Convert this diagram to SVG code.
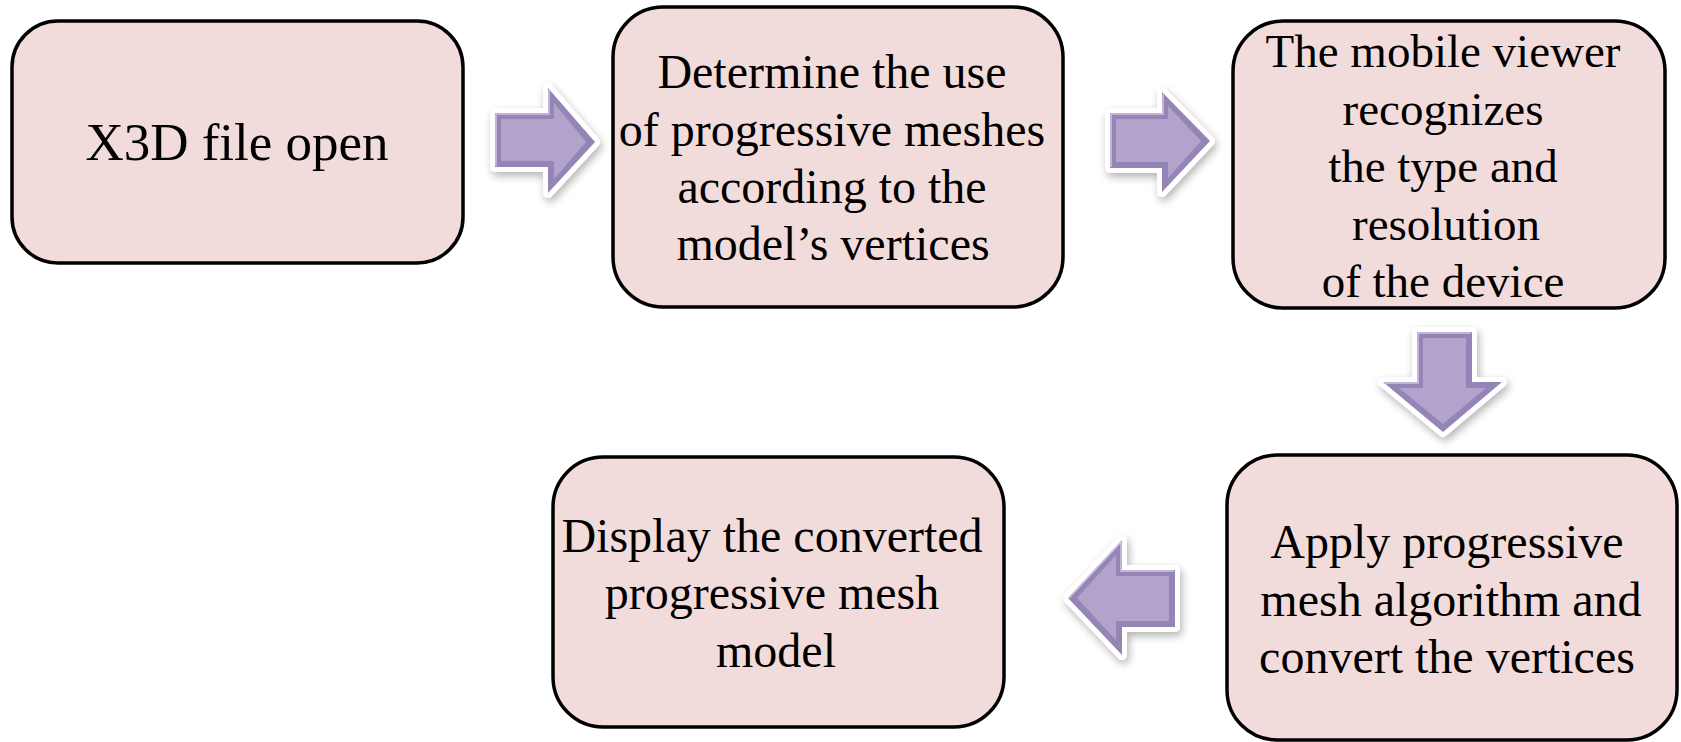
<svg xmlns="http://www.w3.org/2000/svg" width="1681" height="742" viewBox="0 0 1681 742">
<style>
.box{fill:#f2dcdb;stroke:#000;stroke-width:3.5}
.t{font-family:'Liberation Serif','Times New Roman',serif;font-size:48px;fill:#000;text-anchor:middle}
.glow{fill:#fff;stroke:#fff;stroke-width:10;stroke-linejoin:round;filter:url(#sh)}
.edge{fill:#9585b6}
.face{fill:#b1a3cc}
.hl{fill:none;stroke:#cfc4e2;stroke-width:1.5;stroke-linejoin:miter}
</style>
<defs>
<filter id="sh" x="-30%" y="-30%" width="160%" height="160%">
<feGaussianBlur in="SourceAlpha" stdDeviation="4" result="b"/>
<feOffset in="b" dx="2" dy="4" result="o"/>
<feComponentTransfer in="o" result="s"><feFuncA type="linear" slope="0.3"/></feComponentTransfer>
<feMerge><feMergeNode in="s"/><feMergeNode in="SourceGraphic"/></feMerge>
</filter>
</defs>
<rect width="1681" height="742" fill="#fff"/>
<g id="connectors">
<g id="arrow1">
<polygon class="glow" points="495,113 548,113 548,88 595,142 548,193 548,167 495,167"/>
<polygon class="edge" points="495,113 548,113 548,88 595,142 548,193 548,167 495,167"/>
<polygon class="face" points="501,119 554,119 554,103 586,142 554,179 554,161 501,161"/>
<polyline class="hl" points="496,166 496,114 549,114 549,90"/>
</g>
<g id="arrow2">
<polygon class="glow" points="1110,113 1162,113 1162,92 1210,141 1162,192 1162,168 1110,168"/>
<polygon class="edge" points="1110,113 1162,113 1162,92 1210,141 1162,192 1162,168 1110,168"/>
<polygon class="face" points="1116,119 1168,119 1168,106 1201,141 1168,178 1168,162 1116,162"/>
<polyline class="hl" points="1111,167 1111,114 1163,114 1163,94"/>
</g>
<g id="arrow3">
<polygon class="glow" points="1417,332 1472,332 1472,382 1502,382 1443,432 1383,382 1417,382"/>
<polygon class="edge" points="1417,332 1472,332 1472,382 1502,382 1443,432 1383,382 1417,382"/>
<polygon class="face" points="1423,338 1466,338 1466,388 1486,388 1443,424 1399,388 1423,388"/>
<polyline class="hl" points="1384,383 1418,383 1418,333 1471,333"/>
</g>
<g id="arrow4">
<polygon class="glow" points="1175,570 1122,570 1122,540 1068,598 1122,655 1122,627 1175,627"/>
<polygon class="edge" points="1175,570 1122,570 1122,540 1068,598 1122,655 1122,627 1175,627"/>
<polygon class="face" points="1169,576 1116,576 1116,555 1077,598 1116,640 1116,621 1169,621"/>
<polyline class="hl" points="1069,598 1121,542 1121,571 1174,571"/>
</g>
</g>
<g id="node1">
<rect class="box" x="12" y="21" width="451" height="242" rx="46"/>
<text class="t" x="237" y="160" style="font-size:53px">X3D file open</text>
</g>
<g id="node2">
<rect class="box" x="613" y="7" width="450" height="300" rx="50"/>
<text class="t" x="832" y="88">Determine the use</text>
<text class="t" x="832" y="146">of progressive meshes</text>
<text class="t" x="832" y="203">according to the</text>
<text class="t" x="833" y="260">model’s vertices</text>
</g>
<g id="node3">
<rect class="box" x="1233" y="21" width="432" height="287" rx="50"/>
<text class="t" x="1443" y="67" style="font-size:47px">The mobile viewer</text>
<text class="t" x="1443" y="125" style="font-size:47px">recognizes</text>
<text class="t" x="1443" y="182" style="font-size:47px">the type and</text>
<text class="t" x="1446" y="240" style="font-size:47px">resolution</text>
<text class="t" x="1443" y="297" style="font-size:47px">of the device</text>
</g>
<g id="node4">
<rect class="box" x="553" y="457" width="451" height="270" rx="50"/>
<text class="t" x="772" y="552">Display the converted</text>
<text class="t" x="772" y="609">progressive mesh</text>
<text class="t" x="776" y="667">model</text>
</g>
<g id="node5">
<rect class="box" x="1227" y="455" width="450" height="285" rx="50"/>
<text class="t" x="1447" y="558">Apply progressive</text>
<text class="t" x="1451" y="616">mesh algorithm and</text>
<text class="t" x="1447" y="673">convert the vertices</text>
</g>
</svg>
